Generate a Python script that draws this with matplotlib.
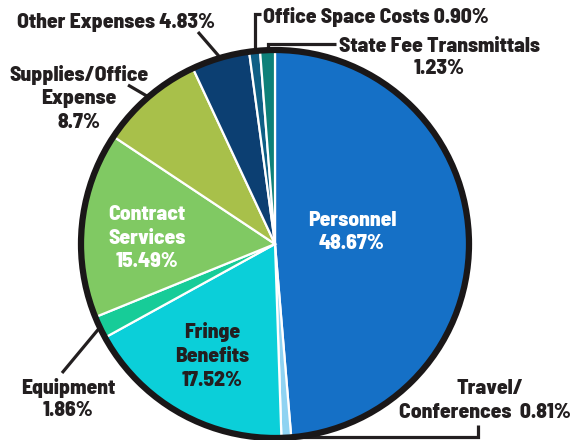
import numpy as np
import matplotlib
matplotlib.use('Agg')
import matplotlib.pyplot as plt
from matplotlib.patches import Circle

# data
categories = ['Personnel', 'Travel/Conferences', 'Fringe Benefits', 'Equipment',
              'Contract Services', 'Supplies/Office Expense', 'Other Expenses',
              'Office Space Costs', 'State Fee Transmittals']
shares = [48.67, 0.81, 17.52, 1.86, 15.49, 8.7, 4.83, 0.90, 1.23]
pct_labels = ['48.67%', '0.81%', '17.52%', '1.86%', '15.49%', '8.7%', '4.83%', '0.90%', '1.23%']
wedge_colors = ['#1570c6', '#8fd3f2', '#0bcfd9', '#17cc98', '#80c963',
                '#a8c04a', '#0c3f72', '#0f5f85', '#0e8079']

TXT = '#231f20'
plt.rcParams['font.family'] = ['Barlow Semi Condensed', 'DejaVu Sans']
FS = 15.5
FW = 800

W, H = 572, 440
CX, CY, R = 275, 244, 194  # pie centre / radius in pixels

fig = plt.figure(figsize=(W / 100, H / 100), dpi=100)
ax = fig.add_axes([(CX - R) / W, (H - CY - R) / H, 2 * R / W, 2 * R / H])

wedges, _ = ax.pie(shares, colors=wedge_colors, startangle=90, counterclock=False,
                   radius=1.0, wedgeprops=dict(edgecolor='white', linewidth=1.6))
for w in wedges:
    w.set_clip_on(False)
ax.add_patch(Circle((0, 0), 1.0, fill=False, edgecolor='#1a1718', linewidth=4.5,
                    zorder=5, clip_on=False))
ax.set_xlim(-1, 1)
ax.set_ylim(-1, 1)
ax.set_aspect('equal')
ax.axis('off')


def px(x, y):
    # pixel position (from top-left) -> data coords of the pie axes
    return (x - CX) / R, (CY - y) / R


def edge(i):
    w = wedges[i]
    a = np.deg2rad((w.theta1 + w.theta2) / 2)
    return np.cos(a), np.sin(a)


def txt(x, y, s, ha='center', color=TXT, ls=1.3):
    ax.text(*px(x, y), s, ha=ha, va='center', fontsize=FS, fontweight=FW,
            color=color, linespacing=ls, clip_on=False, zorder=6)


def leader(points):
    xs, ys = zip(*points)
    ax.plot(xs, ys, color=TXT, linewidth=2.3, clip_on=False, zorder=4,
            solid_capstyle='butt', solid_joinstyle='miter')


# inside labels
txt(352, 232, 'Personnel\n' + pct_labels[0], color='white')
txt(147, 238, 'Contract\nServices\n' + pct_labels[4], color='white')
txt(212, 356, 'Fringe\nBenefits\n' + pct_labels[2])

# outside labels
txt(79, 98, 'Supplies/Office\nExpense\n' + pct_labels[5])
leader([edge(5), px(128, 85)])

txt(116, 22, 'Other Expenses ' + pct_labels[6])
leader([edge(6), px(198, 32)])

txt(263, 17, 'Office Space Costs ' + pct_labels[7], ha='left')
ex, ey = edge(7)
leader([(ex, ey), (ex, px(0, 14)[1]), (px(261, 0)[0], px(0, 14)[1])])

txt(439, 57, 'State Fee Transmittals\n' + pct_labels[8], ls=1.2)
ex, ey = edge(8)
leader([(ex, ey), (ex, px(0, 44)[1]), (px(336, 0)[0], px(0, 44)[1])])

txt(68, 399, 'Equipment\n' + pct_labels[3], ls=1.15)
leader([edge(3), px(62, 373)])

ax.text(*px(490, 388), 'Travel/', ha='center', va='center', fontsize=FS,
        fontweight=FW, color=TXT, clip_on=False)
ax.text(*px(571, 412), 'Conferences  ' + pct_labels[1], ha='right', va='center',
        fontsize=FS, fontweight=FW, color=TXT, clip_on=False)
ex, ey = edge(1)
leader([(ex, ey), (ex, px(0, 437)[1]), (px(478, 0)[0], px(0, 437)[1]),
        (px(478, 0)[0], px(0, 425)[1])])

fig.savefig('out.png', dpi=100)
